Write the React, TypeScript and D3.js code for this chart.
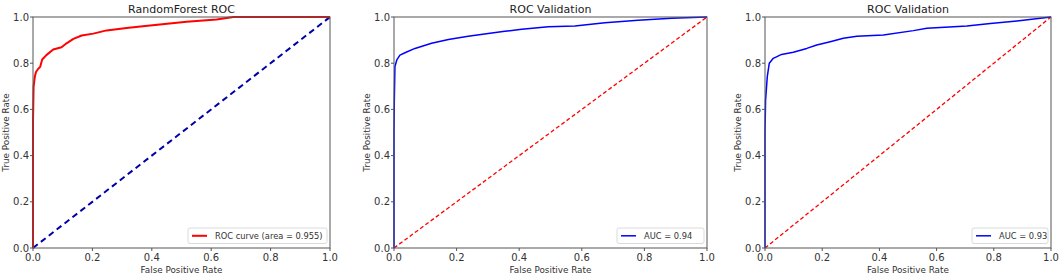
import React from "react";
import * as d3 from "d3";

const W = 1059;
const H = 277;

// RandomForest ROC (fpr, tpr)
const rfFpr = [0, 0, 0.001, 0.002, 0.006, 0.01, 0.017, 0.024, 0.031, 0.045, 0.068, 0.096, 0.113, 0.136, 0.164, 0.203, 0.248, 0.315, 0.37, 0.427, 0.517, 0.618, 0.675, 1.0];
const rfTpr = [0, 0.55, 0.62, 0.697, 0.74, 0.762, 0.775, 0.784, 0.816, 0.835, 0.859, 0.869, 0.886, 0.905, 0.92, 0.928, 0.942, 0.952, 0.96, 0.968, 0.979, 0.989, 1.0, 1.0];

// Validation 1 (AUC = 0.94)
const v1Fpr = [0, 0, 0.001, 0.003, 0.009, 0.019, 0.035, 0.067, 0.12, 0.174, 0.237, 0.301, 0.354, 0.408, 0.493, 0.578, 0.674, 0.78, 0.887, 1.0];
const v1Tpr = [0, 0.5, 0.64, 0.785, 0.814, 0.835, 0.845, 0.864, 0.886, 0.903, 0.917, 0.929, 0.938, 0.947, 0.958, 0.961, 0.975, 0.986, 0.995, 1.0];

// Validation 2 (AUC = 0.93)
const v2Fpr = [0, 0, 0.002, 0.008, 0.015, 0.029, 0.058, 0.099, 0.146, 0.181, 0.228, 0.274, 0.321, 0.414, 0.519, 0.566, 0.706, 0.788, 0.881, 1.0];
const v2Tpr = [0, 0.5, 0.64, 0.742, 0.8, 0.821, 0.838, 0.847, 0.864, 0.879, 0.893, 0.908, 0.917, 0.922, 0.941, 0.951, 0.961, 0.972, 0.983, 1.0];

const ticks = [0, 0.2, 0.4, 0.6, 0.8, 1.0];

type Panel = {
  title: string;
  fpr: number[];
  tpr: number[];
  color: string;
  width: number;
  diagColor: string;
  diagWidth: number;
  diagDash: string;
  legend: string;
  left: number;
  right: number;
  legendW: number;
};

const panels: Panel[] = [
  { title: "RandomForest ROC", fpr: rfFpr, tpr: rfTpr, color: "#ff0000", width: 2, diagColor: "#0000aa", diagWidth: 2, diagDash: "6,4", legend: "ROC curve (area = 0.955)", left: 33, right: 330, legendW: 139 },
  { title: "ROC Validation", fpr: v1Fpr, tpr: v1Tpr, color: "#0000ff", width: 1.5, diagColor: "#ff0000", diagWidth: 1.3, diagDash: "4,2.5", legend: "AUC = 0.94", left: 394, right: 707, legendW: 87 },
  { title: "ROC Validation", fpr: v2Fpr, tpr: v2Tpr, color: "#0000ff", width: 1.5, diagColor: "#ff0000", diagWidth: 1.3, diagDash: "4,2.5", legend: "AUC = 0.93", left: 765, right: 1051, legendW: 76 },
];

const TOP = 17;
const BOTTOM = 248;
const FONT = "DejaVu Sans, sans-serif";

function PanelView({ p }: { p: Panel }) {
  const x = d3.scaleLinear().domain([0, 1]).range([p.left, p.right]);
  const y = d3.scaleLinear().domain([0, 1]).range([BOTTOM, TOP]);
  const pts: [number, number][] = p.fpr.map((f, i) => [f, p.tpr[i]]);
  const line = d3.line<[number, number]>().x((d) => x(d[0])).y((d) => y(d[1]));
  const cx = (p.left + p.right) / 2;
  const cy = (TOP + BOTTOM) / 2;
  const lx1 = p.right - 3 - p.legendW;
  return (
    <g>
      <text x={cx} y={13} textAnchor="middle" fontSize={11} fill="#222" fontFamily={FONT}>{p.title}</text>
      <path d={line([[0, 0], [1, 1]]) || ""} fill="none" stroke={p.diagColor} strokeWidth={p.diagWidth} strokeDasharray={p.diagDash} />
      <path d={line(pts) || ""} fill="none" stroke={p.color} strokeWidth={p.width} strokeLinejoin="round" />
      <rect x={p.left} y={TOP} width={p.right - p.left} height={BOTTOM - TOP} fill="none" stroke="#555" strokeWidth={1} />
      {ticks.map((t) => (
        <g key={"x" + t}>
          <line x1={x(t)} x2={x(t)} y1={BOTTOM} y2={BOTTOM + 3} stroke="#555" />
          <text x={x(t)} y={261} textAnchor="middle" fontSize={10} fill="#333" fontFamily={FONT}>{t.toFixed(1)}</text>
        </g>
      ))}
      {ticks.map((t) => (
        <g key={"y" + t}>
          <line x1={p.left - 3} x2={p.left} y1={y(t)} y2={y(t)} stroke="#555" />
          <text x={p.left - 4} y={y(t) + 3.5} textAnchor="end" fontSize={10} fill="#333" fontFamily={FONT}>{t.toFixed(1)}</text>
        </g>
      ))}
      <text x={cx} y={272.5} textAnchor="middle" fontSize={8.8} fill="#333" fontFamily={FONT}>False Positive Rate</text>
      <text transform={`translate(${p.left - 24},${cy}) rotate(-90)`} textAnchor="middle" fontSize={8.8} fill="#333" fontFamily={FONT}>True Positive Rate</text>
      <rect x={lx1} y={228} width={p.legendW} height={15.5} rx={2} fill="#fff" fillOpacity={0.85} stroke="#d0d0d0" strokeWidth={0.8} />
      <line x1={lx1 + 4} x2={lx1 + 19} y1={235.8} y2={235.8} stroke={p.color} strokeWidth={p.width} />
      <text x={lx1 + 27} y={239} fontSize={8.3} fill="#333" fontFamily={FONT}>{p.legend}</text>
    </g>
  );
}

export default function App() {
  return (
    <svg width={W} height={H} style={{ position: "absolute", left: 0, top: 0, background: "#fff" }}>
      <rect width={W} height={H} fill="#fff" />
      {panels.map((p, i) => (
        <PanelView key={i} p={p} />
      ))}
    </svg>
  );
}
